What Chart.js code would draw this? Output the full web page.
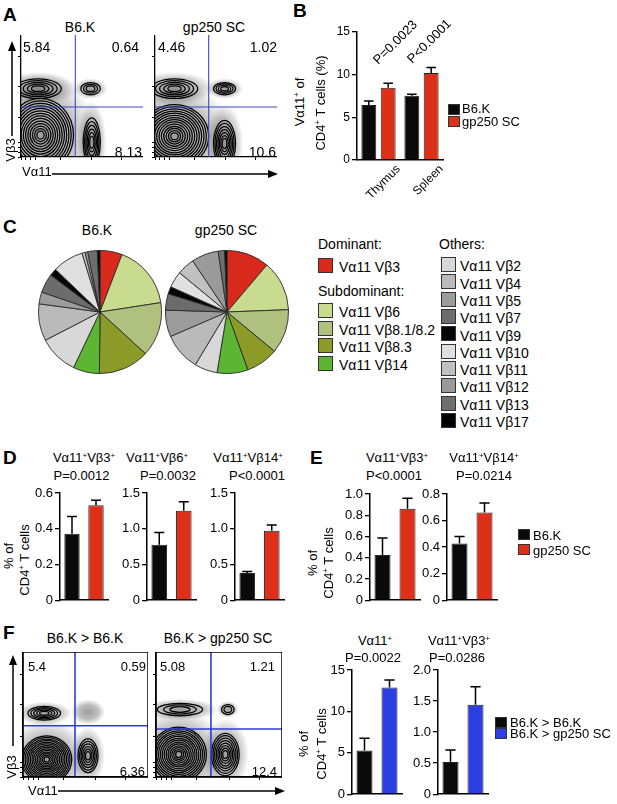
<!DOCTYPE html>
<html>
<head>
<meta charset="utf-8">
<script src="https://cdn.jsdelivr.net/npm/chart.js@4.4.1/dist/chart.umd.min.js"></script>
<style>
html,body{margin:0;padding:0;background:#fff;width:617px;height:804px;overflow:hidden;position:relative;}
.t{position:absolute;line-height:1;white-space:nowrap;font-family:'Liberation Sans',Arial,sans-serif;color:#000;}
.t sup{font-size:0.6em;line-height:0;vertical-align:0.55em;}
.b{font-weight:bold;}
canvas{position:absolute;}
.sq{position:absolute;box-sizing:border-box;border:1.3px solid #333;}
svg{position:absolute;left:0;top:0;}
</style>
</head>
<body>
<svg width="617" height="804">
  <line x1="12" y1="136" x2="12" y2="48" stroke="#000" stroke-width="1.5"/>
  <polygon points="12,41 8,51 16,51" fill="#000"/>
  <line x1="52" y1="174" x2="271" y2="174" stroke="#000" stroke-width="1.5"/>
  <polygon points="278,174 268,170 268,178" fill="#000"/>
  <line x1="13" y1="746" x2="13" y2="662" stroke="#000" stroke-width="1.5"/>
  <polygon points="13,655 9,665 17,665" fill="#000"/>
  <line x1="58" y1="791" x2="278" y2="791" stroke="#000" stroke-width="1.5"/>
  <polygon points="285,791 275,787 275,795" fill="#000"/>
</svg>
<script>
// ---------------- DATA ----------------
// Panel A flow plots (data units 0-100 on both axes)
const flowTicks = [0, 4, 8, 12, 32, 58, 82];
const flowA1Gate = [44.5, 41];
const flowA1Pct = ['5.84', '0.64', '8.13'];
const flowA1Pops = [[16, 18, 27, 30, 14], [58, 12, 7, 20, 6], [14, 56, 19, 8, 5], [57, 56, 8, 5, 3]];
const flowA2Gate = [44, 41];
const flowA2Pct = ['4.46', '1.02', '10.6'];
const flowA2Pops = [[16, 17, 28, 26, 14], [57, 11, 9, 19, 7], [16, 56, 19, 8, 5], [57, 56, 9, 5, 4]];
// Panel B
const bCategories = ['Thymus', 'Spleen'];
const bB6K = [6.45, 7.54];
const bB6KErr = [0.45, 0.16];
const bGp250 = [8.47, 10.2];
const bGp250Err = [0.53, 0.65];
const bPvals = ['P=0.0023', 'P<0.0001'];
// Panel C (percent of Vα11+ repertoire)
const pieLabels = ['Vα11 Vβ3', 'Vα11 Vβ6', 'Vα11 Vβ8.1/8.2', 'Vα11 Vβ8.3', 'Vα11 Vβ14',
  'Vα11 Vβ2', 'Vα11 Vβ4', 'Vα11 Vβ5', 'Vα11 Vβ7', 'Vα11 Vβ9', 'Vα11 Vβ10', 'Vα11 Vβ11', 'Vα11 Vβ12', 'Vα11 Vβ13', 'Vα11 Vβ17'];
const pieB6K = [5.8, 16.7, 14.2, 13.3, 6.9, 10.3, 9.7, 3.1, 5.0, 1.9, 8.1, 0.8, 0.7, 2.5, 0.7];
const pieGp250 = [11.2, 13.2, 11.6, 8.5, 8.1, 6.0, 9.9, 7.0, 4.3, 1.9, 4.3, 4.6, 7.1, 1.7, 0.6];
// Panel D
const dTitles = ['Vα11<sup>+</sup>Vβ3<sup>+</sup>', 'Vα11<sup>+</sup>Vβ6<sup>+</sup>', 'Vα11<sup>+</sup>Vβ14<sup>+</sup>'];
const dPvals = ['P=0.0012', 'P=0.0032', 'P<0.0001'];
const dB6K = [0.372, 0.775, 0.38];
const dB6KErr = [0.097, 0.174, 0.023];
const dGp250 = [0.532, 1.253, 0.971];
const dGp250Err = [0.028, 0.126, 0.08];
const dMax = [0.6, 1.5, 1.5];
const dStep = [0.2, 0.5, 0.5];
// Panel E
const eTitles = ['Vα11<sup>+</sup>Vβ3<sup>+</sup>', 'Vα11<sup>+</sup>Vβ14<sup>+</sup>'];
const ePvals = ['P<0.0001', 'P=0.0214'];
const eB6K = [0.426, 0.427];
const eB6KErr = [0.16, 0.053];
const eGp250 = [0.862, 0.66];
const eGp250Err = [0.099, 0.073];
const eMax = [1.0, 0.8];
const eStep = [0.2, 0.2];
// Panel F flow plots
const flowF1Gate = [41.6, 41];
const flowF1Pct = ['5.4', '0.59', '6.36'];
const flowF1Pops = [[19, 14, 20, 19, 14], [52, 17, 8, 13.5, 6], [17, 51, 13, 5.5, 5], [52, 52, 8, 6, 0]];
const flowF2Gate = [43.6, 38.4];
const flowF2Pct = ['5.08', '1.21', '12.4'];
const flowF2Pops = [[18, 18, 22, 22, 14], [55, 18, 11, 17, 8], [19, 54, 18, 5, 3], [57, 54, 5, 4, 2]];
// Panel F bars
const fTitles = ['Vα11<sup>+</sup>', 'Vα11<sup>+</sup>Vβ3<sup>+</sup>'];
const fPvals = ['P=0.0022', 'P=0.0286'];
const fB6K = [5.27, 0.52];
const fB6KErr = [1.48, 0.19];
const fGp250 = [12.9, 1.44];
const fGp250Err = [0.9, 0.29];
const fMax = [15, 2.0];
const fStep = [5, 0.5];

// ---------------- STYLE ----------------
const BLACK = '#0a0a0a', RED = '#dc3018', BLUE = '#2c3fe3';
const pieColors = ['#d9281c', '#c9db8f', '#b0c17f', '#8c9b27', '#5cb634', '#d8d8d8', '#bababa', '#9c9c9c', '#6c6c6c', '#050505', '#e0e0e0', '#c0c0c0', '#9a9a9a', '#6e6e6e', '#000000'];
Chart.defaults.font.family = "'Liberation Sans', Arial, sans-serif";
Chart.defaults.color = '#000';

function mk(l, t, w, h) {
  const c = document.createElement('canvas');
  c.width = w; c.height = h;
  c.style.left = l + 'px'; c.style.top = t + 'px';
  c.style.width = w + 'px'; c.style.height = h + 'px';
  document.body.appendChild(c);
  return c;
}
function T(x, cap, html, fs, align, cls) {
  const d = document.createElement('div');
  d.className = 't' + (cls ? ' ' + cls : '');
  d.style.left = x + 'px';
  d.style.top = (cap - 0.13 * fs) + 'px';
  d.style.fontSize = fs + 'px';
  if (align === 'c') d.style.transform = 'translateX(-50%)';
  if (align === 'r') d.style.transform = 'translateX(-100%)';
  d.innerHTML = html;
  document.body.appendChild(d);
}
function R(cx, cy, html, fs, deg) {
  const d = document.createElement('div');
  d.className = 't';
  d.style.left = cx + 'px'; d.style.top = cy + 'px';
  d.style.fontSize = fs + 'px';
  d.style.transform = 'translate(-50%,-50%) rotate(' + deg + 'deg)';
  d.innerHTML = html;
  document.body.appendChild(d);
}
function SQ(x, y, w, h, color) {
  const d = document.createElement('div');
  d.className = 'sq';
  d.style.left = x + 'px'; d.style.top = y + 'px';
  d.style.width = w + 'px'; d.style.height = h + 'px';
  d.style.background = color;
  document.body.appendChild(d);
}

const errPlugin = {
  id: 'errbars',
  afterDatasetsDraw(chart) {
    const ctx = chart.ctx, ys = chart.scales.y;
    chart.data.datasets.forEach((ds, di) => {
      if (!ds.errors) return;
      const meta = chart.getDatasetMeta(di);
      meta.data.forEach((el, i) => {
        const yt = ys.getPixelForValue(ds.data[i] + ds.errors[i]);
        ctx.save();
        ctx.strokeStyle = '#000'; ctx.lineWidth = 1.5;
        ctx.beginPath();
        ctx.moveTo(el.x, el.y); ctx.lineTo(el.x, yt);
        ctx.moveTo(el.x - el.width * 0.32, yt); ctx.lineTo(el.x + el.width * 0.32, yt);
        ctx.stroke();
        ctx.restore();
      });
    });
  }
};

function barChart(cfg) {
  const c = mk(cfg.left, cfg.top, cfg.width, cfg.height);
  return new Chart(c, {
    type: 'bar',
    data: { labels: cfg.labels, datasets: cfg.datasets },
    options: {
      responsive: false, animation: false, events: [],
      layout: { padding: { top: cfg.yTop - cfg.top, right: cfg.left + cfg.width - cfg.xRight, left: 0, bottom: 0 } },
      plugins: { legend: { display: false }, tooltip: { enabled: false } },
      scales: {
        x: {
          grid: { display: false, drawTicks: false },
          border: { display: true, color: '#000', width: 1.5 },
          ticks: cfg.xTicks || { display: false },
          afterFit: s => { s.height = cfg.top + cfg.height - cfg.yZero; }
        },
        y: {
          min: 0, max: cfg.max,
          ticks: { stepSize: cfg.step, font: { size: cfg.fs }, padding: 2, color: '#000',
            callback: v => v === 0 ? '0' : v.toFixed(cfg.dec) },
          grid: { display: true, drawOnChartArea: false, drawTicks: true, tickLength: 5, color: '#000', lineWidth: 1.3 },
          border: { display: true, color: '#000', width: 1.5 },
          afterFit: s => { s.width = cfg.axisX - cfg.left; }
        }
      }
    },
    plugins: [errPlugin]
  });
}

function pairChart(pos, b6, b6e, gp, gpe, max, step, gpColor) {
  const dec = step < 1 ? 1 : 0;
  return barChart(Object.assign({}, pos, {
    labels: ['B6.K', 'gp250 SC'],
    max: max, step: step, dec: dec, fs: 13,
    datasets: [{
      data: [b6, gp], errors: [b6e, gpe],
      backgroundColor: [BLACK, gpColor], borderColor: '#222', borderWidth: 1,
      categoryPercentage: 1, barPercentage: 0.64
    }]
  }));
}

function flowPlot(l, t, w, h, gate, pops, frame, gateColor, gateWidth) {
  const c = mk(l, t, w + 4, h + 4);
  const plug = {
    id: 'flowdraw',
    beforeDatasetsDraw(chart) {
      const ctx = chart.ctx, a = chart.chartArea, xs = chart.scales.x, ys = chart.scales.y;
      ctx.save();
      ctx.beginPath(); ctx.rect(a.left, a.top, a.width, a.height); ctx.clip();
      pops.forEach(p => {
        const px = xs.getPixelForValue(p[0]), py = ys.getPixelForValue(p[1]);
        const sx = Math.abs(xs.getPixelForValue(p[0] + p[2]) - px);
        const sy = Math.abs(ys.getPixelForValue(p[1] + p[3]) - py);
        ctx.save();
        ctx.translate(px, py); ctx.scale(sx, sy);
        const g = ctx.createRadialGradient(0, 0, 0, 0, 0, 1.7);
        g.addColorStop(0, 'rgba(40,40,40,0.45)');
        g.addColorStop(0.58, 'rgba(40,40,40,0.30)');
        g.addColorStop(1, 'rgba(40,40,40,0)');
        ctx.fillStyle = g;
        ctx.beginPath(); ctx.arc(0, 0, 1.7, 0, Math.PI * 2); ctx.fill();
        ctx.restore();
        ctx.strokeStyle = '#000'; ctx.lineWidth = 1.25;
        for (let i = 0; i < p[4]; i++) {
          const f = 1 - i / (p[4] + 0.6);
          ctx.beginPath(); ctx.ellipse(px, py, sx * f, sy * f, 0, 0, Math.PI * 2); ctx.stroke();
        }
      });
      const gx = xs.getPixelForValue(gate[0]), gy = ys.getPixelForValue(gate[1]);
      ctx.strokeStyle = gateColor; ctx.lineWidth = gateWidth;
      ctx.beginPath();
      ctx.moveTo(gx, a.top); ctx.lineTo(gx, a.bottom);
      ctx.moveTo(a.left, gy); ctx.lineTo(a.right, gy);
      ctx.stroke();
      ctx.restore();
      if (frame) {
        ctx.save(); ctx.strokeStyle = '#000'; ctx.lineWidth = 1.5;
        ctx.strokeRect(a.left, a.top, a.width, a.height); ctx.restore();
      }
    }
  };
  const tickSet = s => { s.ticks = flowTicks.map(v => ({ value: v })); };
  return new Chart(c, {
    type: 'scatter',
    data: { datasets: [] },
    options: {
      responsive: false, animation: false, events: [],
      layout: { padding: 0 },
      plugins: { legend: { display: false }, tooltip: { enabled: false } },
      scales: {
        x: { type: 'linear', min: 0, max: 100, afterBuildTicks: tickSet,
          ticks: { display: false }, grid: { drawOnChartArea: false, tickLength: 3, color: '#000', lineWidth: 1 },
          border: { color: '#000', width: 1.3 }, afterFit: s => { s.height = 4; } },
        y: { type: 'linear', min: 0, max: 100, afterBuildTicks: tickSet,
          ticks: { display: false }, grid: { drawOnChartArea: false, tickLength: 3, color: '#000', lineWidth: 1 },
          border: { color: '#000', width: 1.3 }, afterFit: s => { s.width = 4; } }
      }
    },
    plugins: [plug]
  });
}

function pie(l, t, vals) {
  const c = mk(l, t, 124, 124);
  return new Chart(c, {
    type: 'pie',
    data: { labels: pieLabels, datasets: [{ data: vals, backgroundColor: pieColors, borderColor: '#2a2a2a', borderWidth: 0.9 }] },
    options: { responsive: false, animation: false, events: [], layout: { padding: 0 },
      plugins: { legend: { display: false }, tooltip: { enabled: false } } }
  });
}

// ---------------- PANEL LETTERS ----------------
T(3, 7, 'A', 19, 'l', 'b');
T(293, 3, 'B', 19, 'l', 'b');
T(3, 219, 'C', 19, 'l', 'b');
T(3, 450, 'D', 19, 'l', 'b');
T(310, 450, 'E', 19, 'l', 'b');
T(3, 625, 'F', 19, 'l', 'b');

// ---------------- PANEL A ----------------
T(80, 22, 'B6.K', 14, 'c');
T(214, 22, 'gp250 SC', 14, 'c');
flowPlot(17, 35, 122, 122, flowA1Gate, flowA1Pops, false, '#3d4bc4', 1.1);
flowPlot(151, 35, 122, 122, flowA2Gate, flowA2Pops, false, '#3d4bc4', 1.1);
T(23, 42, flowA1Pct[0], 14, 'l');
T(139, 42, flowA1Pct[1], 14, 'r');
T(142, 147, flowA1Pct[2], 14, 'r');
T(158, 42, flowA2Pct[0], 14, 'l');
T(277, 42, flowA2Pct[1], 14, 'r');
T(276, 147, flowA2Pct[2], 14, 'r');
R(10, 150, 'Vβ3', 13, -90);
T(22, 167, 'Vα11', 13, 'l');

// ---------------- PANEL B ----------------
barChart({
  left: 325, top: 22, width: 120, height: 205, axisX: 357, yTop: 32, yZero: 160, xRight: 443,
  labels: bCategories, max: 15, step: 5, dec: 0, fs: 12,
  xTicks: { display: true, minRotation: 45, maxRotation: 45, font: { size: 12 }, labelOffset: 20, padding: 2, color: '#000' },
  datasets: [
    { label: 'B6.K', data: bB6K, errors: bB6KErr, backgroundColor: BLACK, borderColor: '#222', borderWidth: 1, categoryPercentage: 0.9, barPercentage: 0.77 },
    { label: 'gp250 SC', data: bGp250, errors: bGp250Err, backgroundColor: RED, borderColor: '#222', borderWidth: 1, categoryPercentage: 0.9, barPercentage: 0.77 }
  ]
});
R(395, 42, bPvals[0], 13, -45);
R(429, 41, bPvals[1], 13, -45);
R(299, 102, 'Vα11<sup>+</sup> of', 13, -90);
R(320, 103, 'CD4<sup>+</sup> T cells (%)', 13, -90);
SQ(448, 104, 12, 11, BLACK);
SQ(448, 116, 12, 11, RED);
T(462, 104, 'B6.K', 13, 'l');
T(462, 117, 'gp250 SC', 13, 'l');

// ---------------- PANEL C ----------------
T(97, 225, 'B6.K', 14, 'c');
T(226, 225, 'gp250 SC', 14, 'c');
pie(38, 250, pieB6K);
pie(165, 250, pieGp250);
T(318, 239, 'Dominant:', 14, 'l');
SQ(318, 258, 15, 15, pieColors[0]);
T(339, 262, pieLabels[0], 14, 'l');
T(318, 286, 'Subdominant:', 14, 'l');
[303, 321, 338, 356].forEach((y, i) => {
  SQ(318, y, 15, 15, pieColors[i + 1]);
  T(339, y + 4, pieLabels[i + 1], 14, 'l');
});
T(439, 239, 'Others:', 14, 'l');
for (let i = 0; i < 10; i++) {
  const y = 257 + i * 17.33;
  SQ(441, y, 15, 15, pieColors[i + 5]);
  T(460, y + 4, pieLabels[i + 5], 14, 'l');
}

// ---------------- PANEL D ----------------
const dPos = [
  { left: 32, top: 483, width: 78, height: 127, axisX: 60, yTop: 493, yZero: 605, xRight: 108 },
  { left: 119, top: 483, width: 79, height: 127, axisX: 147, yTop: 493, yZero: 605, xRight: 196 },
  { left: 207, top: 483, width: 79, height: 127, axisX: 235, yTop: 493, yZero: 605, xRight: 284 }
];
const dTitleX = [84, 157, 248], dPX = [81.5, 168, 257];
dPos.forEach((p, i) => {
  pairChart(p, dB6K[i], dB6KErr[i], dGp250[i], dGp250Err[i], dMax[i], dStep[i], RED);
  T(dTitleX[i], 453, dTitles[i], 13, 'c');
  T(dPX[i], 471, dPvals[i], 13, 'c');
});
R(8, 556, '% of', 13, -90);
R(24, 560, 'CD4<sup>+</sup> T cells', 13, -90);

// ---------------- PANEL E ----------------
const ePos = [
  { left: 342, top: 484, width: 80, height: 126, axisX: 370, yTop: 494, yZero: 605, xRight: 420 },
  { left: 419, top: 484, width: 80, height: 126, axisX: 447, yTop: 494, yZero: 605, xRight: 497 }
];
const eTitleX = [397, 484], ePX = [394, 484];
ePos.forEach((p, i) => {
  pairChart(p, eB6K[i], eB6KErr[i], eGp250[i], eGp250Err[i], eMax[i], eStep[i], RED);
  T(eTitleX[i], 453, eTitles[i], 13, 'c');
  T(ePX[i], 471, ePvals[i], 13, 'c');
});
R(312, 563, '% of', 13, -90);
R(328, 563, 'CD4<sup>+</sup> T cells', 13, -90);
SQ(518, 529, 12, 11, BLACK);
SQ(518, 544, 12, 11, RED);
T(533, 531, 'B6.K', 13, 'l');
T(533, 546, 'gp250 SC', 13, 'l');

// ---------------- PANEL F ----------------
T(85, 633, 'B6.K &gt; B6.K', 14, 'c');
T(218, 633, 'B6.K &gt; gp250 SC', 14, 'c');
flowPlot(19, 652, 125, 125, flowF1Gate, flowF1Pops, true, '#2b3fd6', 1.6);
flowPlot(152, 652, 126, 125, flowF2Gate, flowF2Pops, true, '#2b3fd6', 1.6);
T(28, 662, flowF1Pct[0], 13, 'l');
T(146, 662, flowF1Pct[1], 13, 'r');
T(145, 767, flowF1Pct[2], 13, 'r');
T(160, 662, flowF2Pct[0], 13, 'l');
T(275, 662, flowF2Pct[1], 13, 'r');
T(277, 767, flowF2Pct[2], 13, 'r');
R(11, 767, 'Vβ3', 13, -90);
T(28, 786, 'Vα11', 13, 'l');

const fPos = [
  { left: 326, top: 660, width: 80, height: 144, axisX: 352, yTop: 670, yZero: 796, xRight: 402 },
  { left: 410, top: 660, width: 82, height: 144, axisX: 438, yTop: 670, yZero: 796, xRight: 488 }
];
const fTitleX = [375, 459], fPX = [373, 457];
fPos.forEach((p, i) => {
  pairChart(p, fB6K[i], fB6KErr[i], fGp250[i], fGp250Err[i], fMax[i], fStep[i], BLUE);
  T(fTitleX[i], 636, fTitles[i], 13, 'c');
  T(fPX[i], 653, fPvals[i], 13, 'c');
});
R(303, 744, '% of', 13, -90);
R(321, 744, 'CD4<sup>+</sup> T cells', 13, -90);
SQ(495, 717, 12, 11, BLACK);
SQ(495, 728, 12, 11, BLUE);
T(510, 718, 'B6.K &gt; B6.K', 13, 'l');
T(510, 729, 'B6.K &gt; gp250 SC', 13, 'l');
</script>
</body>
</html>
